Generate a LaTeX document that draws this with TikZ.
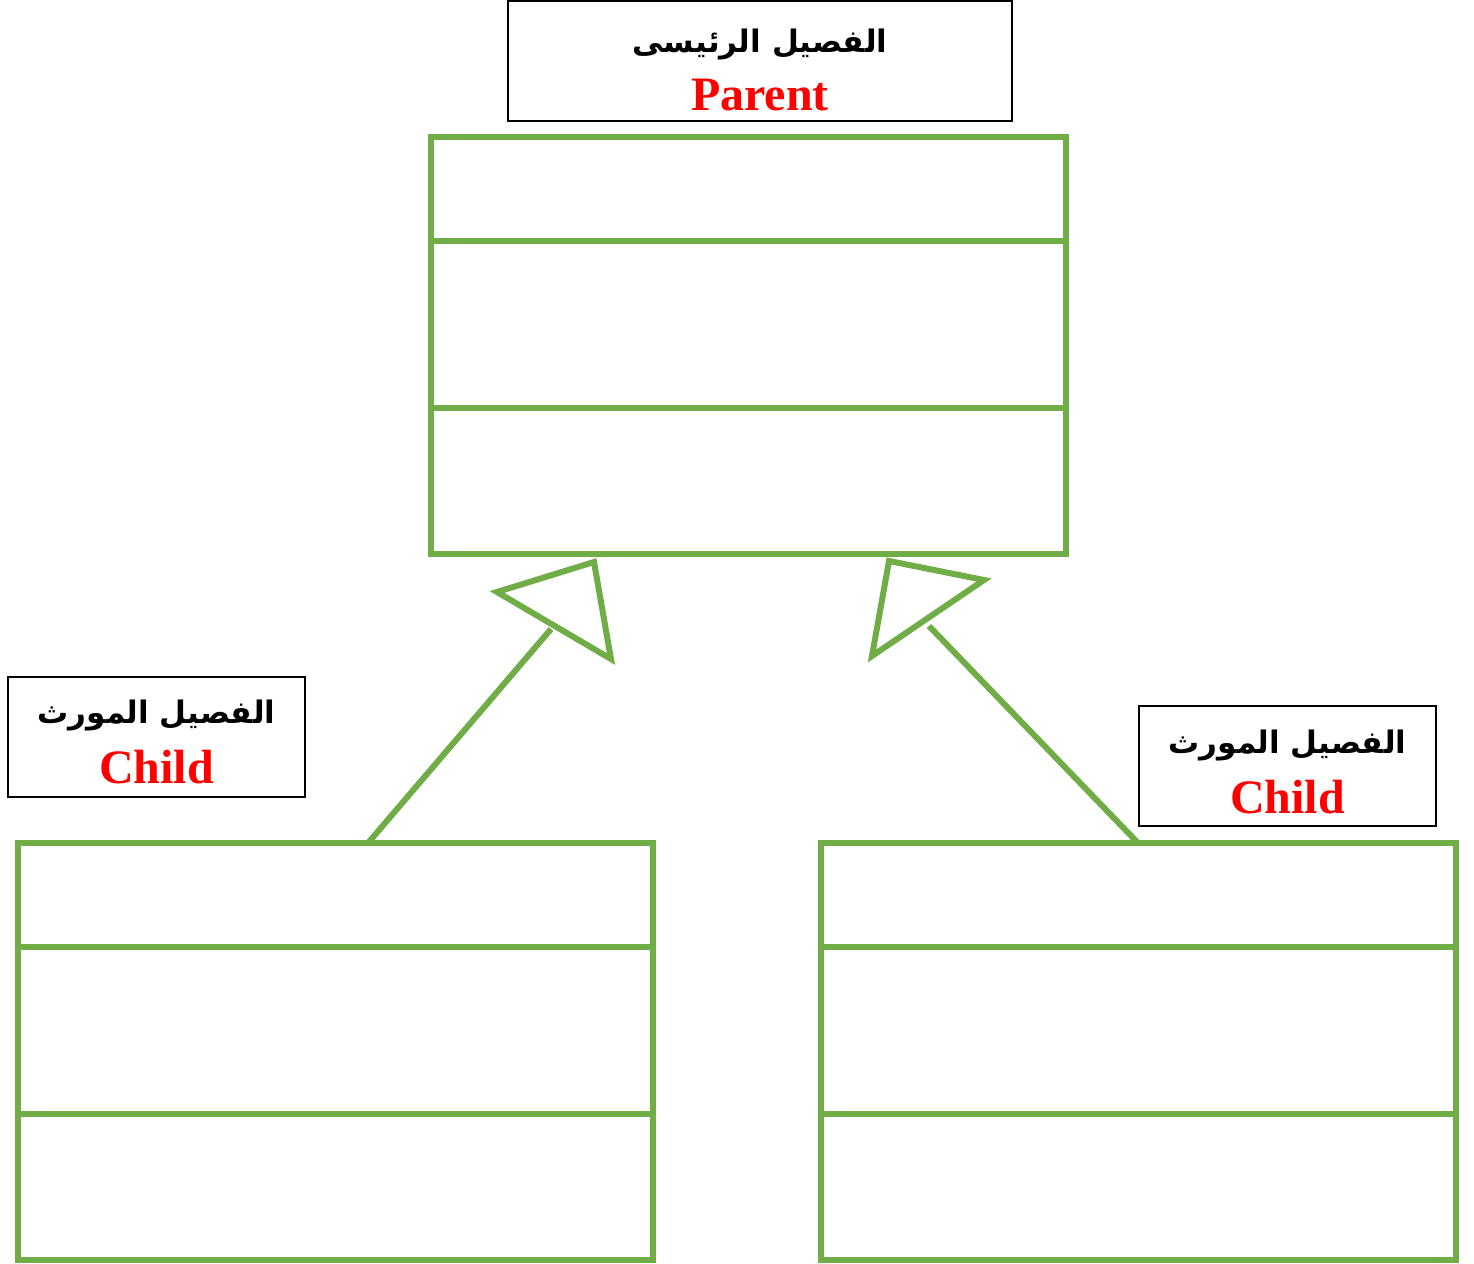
\documentclass[tikz,border=0pt]{standalone}
\usepackage{fontspec}
\setmainfont{Liberation Serif}
\newfontfamily\arabicfont[Script=Arabic]{DejaVu Sans}
\TeXXeTstate=1
\usetikzlibrary{calc}
\definecolor{umlgreen}{HTML}{70AD47}
\definecolor{labelred}{HTML}{FF0000}
\tikzset{
  classbox/.style={draw=umlgreen, line width=3pt, rectangle, inner sep=0pt, outer sep=0pt,
    minimum width=317.5pt, minimum height=208.5pt},
  divider/.style={draw=umlgreen, line width=3pt},
  inherit/.style={draw=umlgreen, line width=3pt},
  tri/.style={draw=umlgreen, line width=3pt, line join=miter},
  labelbox/.style={draw=black, line width=0.9pt, rectangle, inner sep=0pt},
  artext/.style={anchor=base, inner sep=0pt, font=\arabicfont\bfseries\fontsize{15.5}{18}\selectfont},
  entext/.style={anchor=base, inner sep=0pt, text=labelred, font=\bfseries\fontsize{24}{26}\selectfont}
}
\begin{document}
\begin{tikzpicture}[x=0.5pt,y=-0.5pt]
\useasboundingbox (0,0) rectangle (1474,1264);
% class boxes
\node[classbox] (P) at (748.5,345.5) {};
\node[classbox] (L) at (335.5,1051.5) {};
\node[classbox] (R) at (1138,1051.5) {};
\foreach \b in {P,L,R}{
  \draw[divider] ([yshift=-52pt]\b.north west) -- ([yshift=-52pt]\b.north east);
  \draw[divider] ([yshift=-135.5pt]\b.north west) -- ([yshift=-135.5pt]\b.north east);
}
% triangles
\coordinate (t1a) at (594,562);
\coordinate (t1b) at (497,592);
\coordinate (t1c) at (611,659);
\coordinate (t1e) at (551,629);
\coordinate (t2a) at (889,561);
\coordinate (t2b) at (984,580);
\coordinate (t2c) at (872,656);
\coordinate (t2e) at (929,626);
\draw[tri] (t1a) -- (t1b) -- (t1c) -- cycle;
\draw[tri] (t2a) -- (t2b) -- (t2c) -- cycle;
% connectors
\draw[inherit] ($(L.north west)+(350,0)$) -- (t1e);
\draw[inherit] (R.north) -- (t2e);
% labels
\node[labelbox, minimum width=252pt, minimum height=60pt] (PL) at (760,61) {};
\node[artext] (PLa) at (760,52) {\beginR الفصيل الرئيسى\endR};
\node[entext] (PLe) at (760,110) {Parent};
\node[labelbox, minimum width=148.5pt, minimum height=60pt] (LL) at (156.5,737) {};
\node[artext] (LLa) at (156.5,723) {\beginR الفصيل المورث\endR};
\node[entext] (LLe) at (156.5,783) {Child};
\node[labelbox, minimum width=148.5pt, minimum height=60pt] (RL) at (1287.5,766) {};
\node[artext] (RLa) at (1287.5,753) {\beginR الفصيل المورث\endR};
\node[entext] (RLe) at (1287.5,813) {Child};
\end{tikzpicture}
\end{document}
